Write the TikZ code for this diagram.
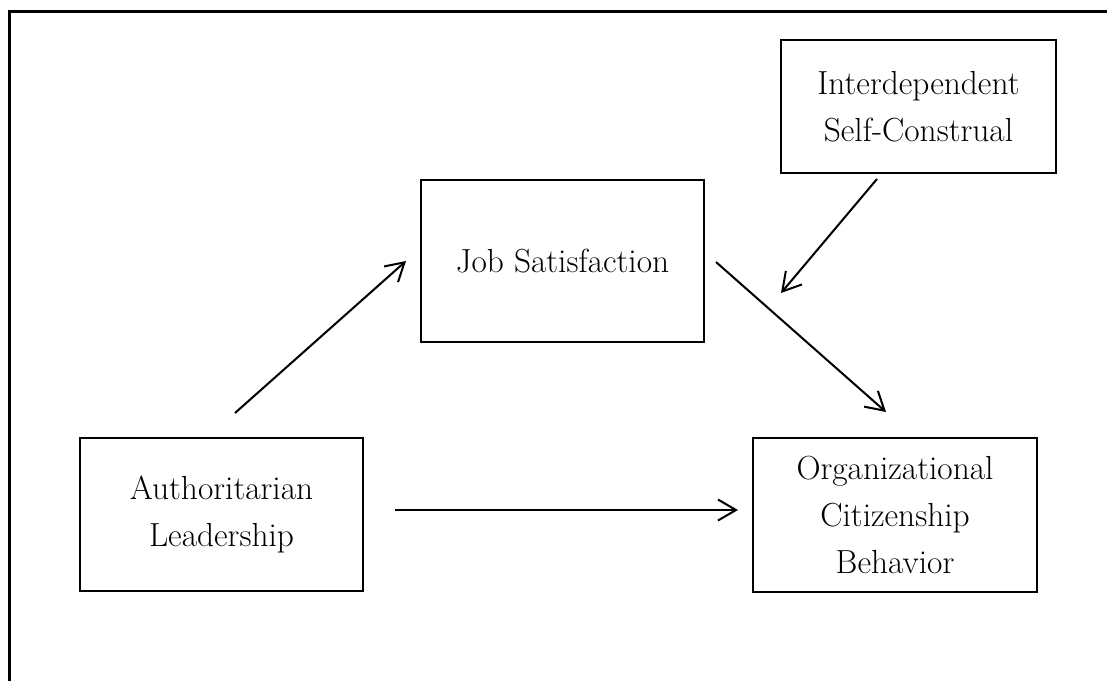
\documentclass[tikz,border=0pt]{standalone}
\usetikzlibrary{arrows.meta}
\begin{document}
\begin{tikzpicture}[x=0.02cm,y=-0.02cm,
  box/.style={draw, line width=0.75pt, inner sep=0pt, align=center,
    font=\fontsize{19}{26.7}\selectfont},
  link/.style={line width=1.15pt, -{Straight Barb[length=0.36cm,width=0.42cm,line width=1.15pt]}},
  frameline/.style={line width=1.6pt}]
\useasboundingbox (0,0) rectangle (1107,681);
\draw[frameline] (9.5,681) -- (9.5,11.5) -- (1107,11.5);
\node[box, minimum width=275*0.02cm, minimum height=133*0.02cm] (isc) at (918.5,106.5) {Interdependent\\Self-Construal};
\node[box, minimum width=283*0.02cm, minimum height=162*0.02cm] (js) at (562.5,261) {Job Satisfaction};
\node[box, minimum width=283*0.02cm, minimum height=153*0.02cm] (al) at (221.5,514.5) {Authoritarian\\Leadership};
\node[box, minimum width=284*0.02cm, minimum height=154*0.02cm] (ocb) at (895,515) {Organizational\\Citizenship\\Behavior};
\coordinate (a1s) at (235,413);
\coordinate (a1e) at (406,261);
\coordinate (a2s) at (716,262);
\coordinate (a2e) at (886,412);
\coordinate (a3s) at (877,179);
\coordinate (a3e) at (781,293);
\coordinate (a4s) at (395,510);
\coordinate (a4e) at (738,510);
\draw[link] (a1s) -- (a1e);
\draw[link] (a2s) -- (a2e);
\draw[link] (a3s) -- (a3e);
\draw[link] (a4s) -- (a4e);
\end{tikzpicture}
\end{document}
